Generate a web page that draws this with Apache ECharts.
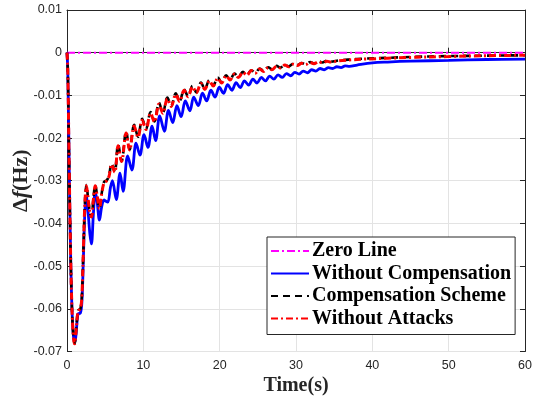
<!DOCTYPE html>
<html>
<head>
<meta charset="utf-8">
<script src="https://cdn.jsdelivr.net/npm/echarts@6/dist/echarts.min.js"></script>
<style>
  html, body { margin: 0; padding: 0; background: #fff; }
  #chart { width: 534px; height: 398px; }
</style>
</head>
<body>
<div id="chart"></div>
<script>
// Frequency deviation traces (time in s, deviation in Hz)
const tZero = [0, 60];
const vZero = [0, 0];

const tBlue = [0, 0.1, 0.25, 0.45, 0.65, 0.85, 1.05, 1.25, 1.45, 1.75, 1.95, 2.15, 2.35, 2.55, 2.75, 3.0, 3.2, 3.45, 3.7, 3.95,
  4.25, 4.55, 4.85, 5.1, 5.35, 5.7, 5.95, 6.45, 6.95, 7.35, 7.95, 8.5, 9.05, 9.55, 10.1, 10.6, 11.15, 11.6, 12.15, 12.75,
  13.3, 13.85, 14.4, 14.95, 15.5, 16.1, 16.6, 17.2, 17.75, 18.3, 18.85, 19.4, 19.95, 20.5, 21.05, 21.6, 22.15, 22.7, 23.25, 23.8,
  24.35, 24.9, 25.45, 26.0, 26.55, 27.1, 27.65, 28.2, 28.75, 29.3, 29.85, 30.4, 30.95, 31.5, 32.05, 32.6, 33.15, 33.7, 34.25, 34.8,
  35.35, 35.9, 36.45, 37, 38, 40, 42, 45, 50, 55, 60];
const vBlue = [0, -0.004, -0.022, -0.045, -0.060, -0.0665, -0.0678, -0.0645, -0.0612, -0.0610, -0.0585, -0.048, -0.037, -0.0335, -0.037, -0.0425, -0.0448, -0.038, -0.0325, -0.035,
  -0.0392, -0.0360, -0.0345, -0.0348, -0.0350, -0.0315, -0.0300, -0.0344, -0.0282, -0.0325, -0.0242, -0.0275, -0.0212, -0.0240, -0.0192, -0.0222, -0.0172, -0.0206, -0.0148, -0.0184,
  -0.0135, -0.0164, -0.0124, -0.0150, -0.0113, -0.0136, -0.0104, -0.0124, -0.0095, -0.0113, -0.0088, -0.0104, -0.0081, -0.0095, -0.0075, -0.0088, -0.0070, -0.0082, -0.0066, -0.0076,
  -0.0062, -0.0071, -0.0058, -0.0066, -0.0055, -0.0062, -0.0052, -0.0058, -0.0049, -0.0054, -0.0046, -0.0050, -0.0043, -0.0047, -0.0040, -0.0043, -0.0037, -0.0040, -0.0035, -0.0037,
  -0.0033, -0.0035, -0.0031, -0.0032, -0.0029, -0.0024, -0.0022, -0.0020, -0.0018, -0.0016, -0.0015];

const tRed = [0, 0.1, 0.25, 0.45, 0.65, 0.85, 1.0, 1.2, 1.45, 1.75, 1.95, 2.15, 2.35, 2.55, 2.75, 3.0, 3.2, 3.45, 3.7, 3.95,
  4.25, 4.55, 4.85, 5.2, 5.5, 5.85, 6.25, 6.7, 7.15, 7.75, 8.2, 8.8, 9.3, 9.85, 10.35, 10.95, 11.45, 12.05, 12.55, 13.15,
  13.65, 14.25, 14.75, 15.35, 15.85, 16.45, 16.95, 17.55, 18.05, 18.65, 19.15, 19.75, 20.25, 20.85, 21.35, 21.95, 22.45, 23.05, 23.55, 24.15,
  24.65, 25.25, 25.75, 26.35, 26.85, 27.45, 27.95, 28.55, 29.05, 29.65, 30.15, 30.75, 31.25, 31.85, 32.35, 32.95, 33.45, 34.05, 34.55, 35.6,
  37, 39, 42, 45, 50, 55, 60];
const vRed = [0, -0.004, -0.022, -0.045, -0.060, -0.0668, -0.0682, -0.0650, -0.0605, -0.0600, -0.0570, -0.046, -0.035, -0.0312, -0.0340, -0.0375, -0.0385, -0.0345, -0.0312, -0.0335,
  -0.0365, -0.0330, -0.0305, -0.0300, -0.0290, -0.0262, -0.0280, -0.0218, -0.0255, -0.0188, -0.0228, -0.0172, -0.0198, -0.0158, -0.0180, -0.0142, -0.0162, -0.0120, -0.0142, -0.0108,
  -0.0126, -0.0098, -0.0114, -0.0088, -0.0103, -0.0080, -0.0094, -0.0072, -0.0086, -0.0066, -0.0078, -0.0060, -0.0071, -0.0054, -0.0064, -0.0050, -0.0058, -0.0046, -0.0053, -0.0042,
  -0.0048, -0.0038, -0.0044, -0.0035, -0.0040, -0.0032, -0.0036, -0.0029, -0.0033, -0.0027, -0.0030, -0.0025, -0.0028, -0.0023, -0.0026, -0.0021, -0.0024, -0.0020, -0.0022, -0.0019,
  -0.0017, -0.0015, -0.0013, -0.0011, -0.0009, -0.0007, -0.0006];

const tBlack = tRed;
const vBlack = [0, -0.004, -0.022, -0.045, -0.060, -0.0668, -0.0681, -0.0649, -0.0604, -0.0600, -0.0569, -0.046, -0.035, -0.0310, -0.0339, -0.0374, -0.0384, -0.0344, -0.0310, -0.0334,
  -0.0364, -0.0329, -0.0303, -0.0299, -0.0288, -0.0259, -0.0279, -0.0215, -0.0254, -0.0185, -0.0227, -0.0169, -0.0197, -0.0155, -0.0179, -0.0139, -0.0161, -0.0117, -0.0141, -0.0105,
  -0.0125, -0.0095, -0.0113, -0.0086, -0.0102, -0.0078, -0.0093, -0.0070, -0.0085, -0.0064, -0.0077, -0.0058, -0.0070, -0.0053, -0.0063, -0.0049, -0.0057, -0.0045, -0.0052, -0.0041,
  -0.0047, -0.0037, -0.0043, -0.0034, -0.0039, -0.0031, -0.0035, -0.0028, -0.0032, -0.0026, -0.0029, -0.0024, -0.0027, -0.0022, -0.0025, -0.0020, -0.0023, -0.0019, -0.0021, -0.0018,
  -0.0016, -0.0014, -0.0012, -0.0010, -0.0008, -0.0007, -0.0006];

const seriesNames = ['Zero Line', 'Without Compensation', 'Compensation Scheme', 'Without Attacks'];

const pairs = (ts, vs) => ts.map((t, i) => [t, vs[i]]);

const axisColor = '#262626';
const tickFont = { color: axisColor, fontFamily: 'Liberation Sans, Arial, sans-serif', fontSize: 12.5 };
const serif = 'Liberation Serif, Times New Roman, serif';

const chart = echarts.init(document.getElementById('chart'), null, { renderer: 'canvas' });

chart.setOption({
  animation: false,
  backgroundColor: '#fff',
  grid: { left: 67, right: 9, top: 10, bottom: 46.5, show: false, containLabel: false, outerBoundsMode: 'none' },
  legend: {
    data: seriesNames,
    orient: 'vertical',
    left: 267,
    top: 237,
    padding: [4, 4, 6, 3],
    itemWidth: 38,
    itemHeight: 14,
    itemGap: 2.5,
    backgroundColor: '#fff',
    borderColor: axisColor,
    borderWidth: 1,
    borderRadius: 0,
    itemStyle: { opacity: 0 },
    textStyle: { color: '#000', fontFamily: serif, fontWeight: 'bold', fontSize: 20, lineHeight: 20, padding: [0, 0, 0, -2] }
  },
  xAxis: [{
    type: 'value',
    min: 0, max: 60, interval: 10,
    name: 'Time(s)',
    nameLocation: 'middle',
    nameGap: 24,
    nameMoveOverlap: false,
    nameTextStyle: { color: axisColor, fontFamily: serif, fontWeight: 'bold', fontSize: 20 },
    axisLine: { show: true, lineStyle: { color: axisColor, width: 1 } },
    axisTick: { show: true, inside: true, length: 5, lineStyle: { color: axisColor } },
    axisLabel: Object.assign({ margin: 8 }, tickFont),
    splitLine: { show: true, lineStyle: { color: '#e3e3e3', width: 1 } }
  }, {
    type: 'value', position: 'top', min: 0, max: 60, interval: 10,
    axisLine: { show: true, onZero: false, lineStyle: { color: axisColor, width: 1 } },
    axisTick: { show: true, inside: true, length: 5, lineStyle: { color: axisColor } },
    axisLabel: { show: false }, splitLine: { show: false }
  }],
  yAxis: [{
    type: 'value',
    min: -0.07, max: 0.01, interval: 0.01,
    name: '{d|Δ}{f|f}{h|(Hz)}',
    nameLocation: 'middle',
    nameGap: 35,
    nameRotate: 90,
    nameMoveOverlap: false,
    nameTextStyle: {
      color: axisColor,
      rich: {
        d: { fontFamily: serif, fontWeight: 'bold', fontSize: 22, color: axisColor },
        f: { fontFamily: serif, fontWeight: 'bold', fontStyle: 'italic', fontSize: 22, color: axisColor },
        h: { fontFamily: serif, fontWeight: 'bold', fontSize: 22, color: axisColor }
      }
    },
    axisLine: { show: true, onZero: false, lineStyle: { color: axisColor, width: 1 } },
    axisTick: { show: true, inside: true, length: 5, lineStyle: { color: axisColor } },
    axisLabel: Object.assign({ margin: 5, formatter: v => String(Math.round(v * 100) / 100) }, tickFont),
    splitLine: { show: true, lineStyle: { color: '#e3e3e3', width: 1 } }
  }, {
    type: 'value', position: 'right', min: -0.07, max: 0.01, interval: 0.01,
    axisLine: { show: true, onZero: false, lineStyle: { color: axisColor, width: 1 } },
    axisTick: { show: true, inside: true, length: 5, lineStyle: { color: axisColor } },
    axisLabel: { show: false }, splitLine: { show: false }
  }],
  series: [{
    name: seriesNames[0],
    type: 'line',
    data: pairs(tZero, vZero),
    showSymbol: false, symbol: 'none',
    color: '#ff00ff',
    lineStyle: { color: '#ff00ff', width: 2, type: [8, 3, 2, 3] },
    z: 2
  }, {
    name: seriesNames[1],
    type: 'line',
    data: pairs(tBlue, vBlue),
    showSymbol: false, symbol: 'none',
    smooth: 0.35,
    color: '#0000ff',
    lineStyle: { color: '#0000ff', width: 2.8 },
    z: 3
  }, {
    name: seriesNames[2],
    type: 'line',
    data: pairs(tBlack, vBlack),
    showSymbol: false, symbol: 'none',
    smooth: 0.35,
    color: '#000',
    lineStyle: { color: '#000', width: 2.6, type: [7, 5] },
    z: 4
  }, {
    name: seriesNames[3],
    type: 'line',
    data: pairs(tRed, vRed),
    showSymbol: false, symbol: 'none',
    smooth: 0.35,
    color: '#ff0000',
    lineStyle: { color: '#ff0000', width: 3, type: [7, 3, 2, 3] },
    z: 5
  }]
});
</script>
</body>
</html>
